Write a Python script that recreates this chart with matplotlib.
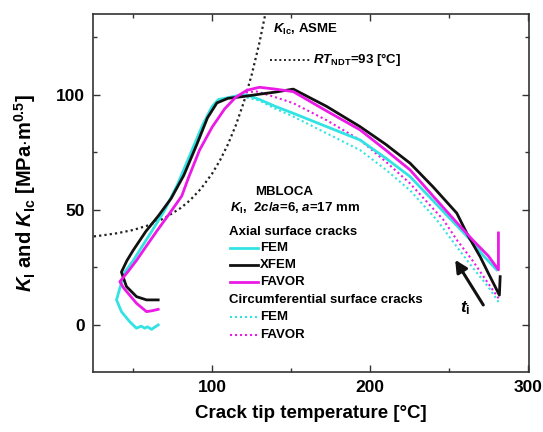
import numpy as np
import matplotlib
matplotlib.use('Agg')
import matplotlib.pyplot as plt
from matplotlib.ticker import MultipleLocator

plt.rcParams['font.family'] = 'Liberation Sans'
plt.rcParams['font.weight'] = 'bold'
plt.rcParams['axes.labelweight'] = 'bold'
plt.rcParams['mathtext.fontset'] = 'custom'
plt.rcParams['mathtext.rm'] = 'Liberation Sans:bold'
plt.rcParams['mathtext.bf'] = 'Liberation Sans:bold'
plt.rcParams['mathtext.it'] = 'Liberation Sans:italic:bold'

# ---- data ----
# ASME K_Ic curve, RT_NDT = 93 C
kic_T = [25, 30, 40, 50, 60, 70, 80, 86, 93, 100, 105, 110, 115, 120, 125, 130, 134]
kic_K = [38.5, 38.9, 39.9, 41.3, 43.4, 46.5, 50.8, 54.2, 59.3, 65.8, 71.6, 78.5,
         86.8, 96.7, 108.6, 122.8, 136.2]

# axial surface cracks, path order (transient starts at high T)
fem_T = [280.3, 272, 265, 251.5, 240, 225.4, 210, 193.7, 172.5, 151.4, 140, 130,
         121.8, 115, 108, 104, 100, 94, 86, 78, 70, 62, 55, 50, 44.7, 41.5, 39.4,
         42.5, 47.8, 52, 55, 57.3, 59, 61.6, 63.5, 65.8]
fem_K = [24, 30, 36, 45.7, 54, 64.5, 72.5, 80.4, 86.2, 92, 95, 98,
         100, 99.5, 98.5, 98, 95, 87, 74, 61, 50, 41, 33.5, 28, 23, 16, 10.9,
         5.8, 1.4, -1.4, -0.5, -1.4, -0.8, -1.9, -1, 0]

xfem_T = [282.5, 282, 275, 269.8, 262, 255, 240, 225.4, 210, 193.7, 172.5, 151.4,
          140, 130, 120, 110, 103, 97, 90, 82, 74, 66, 58, 50, 46, 42.5,
          45.7, 52.1, 58.4, 65.8]
xfem_K = [21, 13, 22.5, 29.7, 39, 48.6, 60, 70.3, 78.5, 86.2, 95, 102.5,
          101.2, 100.3, 99.3, 98.5, 96.5, 90, 78, 65, 55, 47.5, 40.7, 32.5, 28, 23,
          16.7, 12.3, 10.9, 10.9]

favor_T = [281.4, 281.4, 275, 265, 255, 240, 225.4, 210, 193.7, 172.5, 151.4, 140,
           130, 122, 115, 108, 100, 92, 85, 80.7, 72, 64.8, 58, 52, 47, 41.5,
           44, 46.7, 52.1, 58.4, 62, 65.8]
favor_K = [40, 24, 30, 37, 44.5, 56, 67.4, 76, 84.8, 93, 101.4, 102.5,
           103.3, 102, 99, 94, 86, 76, 64, 56, 47.5, 40.7, 34, 28, 23.5, 18.8,
           16, 13.8, 9.4, 5.8, 6.2, 6.8]

# circumferential surface cracks
cfem_T = [281.5, 275, 265, 255, 242.3, 225.4, 210, 193.7, 172.5, 151.4, 140, 130, 118]
cfem_K = [10, 16.5, 25, 34, 45.7, 58.5, 67.5, 76, 83.3, 90.6, 94, 97.5, 99.5]

cfavor_T = [281.5, 275, 265, 255, 246.5, 225.4, 210, 193.7, 172.5, 151.4, 140, 128, 120]
cfavor_K = [11.6, 18, 28, 37, 45.7, 61.5, 71, 80.4, 89, 96.4, 99, 101.5, 101]

CYAN = '#33e3e3'
MAG = '#ec1ae6'
dots = (0, (1, 1.4))

fig = plt.figure(figsize=(5.43, 4.32), dpi=100)
ax = fig.add_axes([0.1713, 0.1396, 0.803, 0.8283])

ax.plot(kic_T, kic_K, color='#222222', lw=1.6, ls=dots)
ax.plot(cfem_T, cfem_K, color=CYAN, lw=1.5, ls=dots)
ax.plot(cfavor_T, cfavor_K, color=MAG, lw=1.5, ls=dots)
ax.plot(fem_T, fem_K, color=CYAN, lw=2.0)
ax.plot(xfem_T, xfem_K, color='#111111', lw=2.0)
ax.plot(favor_T, favor_K, color=MAG, lw=2.0)

ax.set_xlim(24.5, 300.8)
ax.set_ylim(-20.3, 135.2)
ax.xaxis.set_major_locator(MultipleLocator(100))
ax.xaxis.set_minor_locator(MultipleLocator(50))
ax.yaxis.set_major_locator(MultipleLocator(50))
ax.yaxis.set_minor_locator(MultipleLocator(25))
ax.tick_params(which='both', direction='in', top=True, right=True, width=1.0, color='#333333')
ax.tick_params(which='major', length=5, labelsize=12.5, pad=6)
ax.tick_params(which='minor', length=3)
plt.setp(ax.get_xticklabels() + ax.get_yticklabels(), fontweight='bold')
for s in ax.spines.values():
    s.set_linewidth(1.2)
    s.set_color('#333333')

ax.set_xlabel('Crack tip temperature [°C]', fontsize=13.5, fontweight='bold', labelpad=7)
ax.set_ylabel(r'$K_{\rm I}$ and $K_{\rm Ic}$ [MPa$\cdot$m$^{0.5}$]', fontsize=14.5,
              fontweight='bold', labelpad=13)

# annotations
ax.text(138.5, 128.3, r'$K_{\rm Ic}$, ASME', fontsize=9.5, va='center')
lx = [136.7, 163]
ax.plot(lx, [115.2, 115.2], color='#222222', lw=1.4, ls=dots)
ax.text(164, 115.2, r'$RT_{\rm NDT}$=93 [°C]', fontsize=9.5, va='center')

ax.text(145.3, 57.8, 'MBLOCA', fontsize=9.5, va='center', ha='center')
ax.text(111, 50.7, r'$K_{\rm I}$,  2$c$/$a$=6, $a$=17 mm', fontsize=9.5, va='center')
ax.text(110.8, 40.6, 'Axial surface cracks', fontsize=9.5, va='center')
ax.text(110.8, 10.9, 'Circumferential surface cracks', fontsize=9.5, va='center')

entries = [(33.3, CYAN, '-', 'FEM'), (26.1, '#111111', '-', 'XFEM'),
           (18.8, MAG, '-', 'FAVOR'), (3.6, CYAN, dots, 'FEM'), (-4.3, MAG, dots, 'FAVOR')]
for yy, c, st, lab in entries:
    ax.plot([111, 129], [yy, yy], color=c, lw=2.0 if st == '-' else 1.5, ls=st)
    ax.text(130.5, yy, lab, fontsize=9.5, va='center')

ax.annotate('', xy=(254, 28.3), xytext=(271.8, 8.7),
            arrowprops=dict(arrowstyle='-|>', lw=2.2, color='#111111', mutation_scale=18,
                            shrinkA=0, shrinkB=0))
ax.text(260.3, 7.5, r'$t_{\rm i}$', fontsize=12.5, va='center', ha='center')

fig.savefig('out.png', dpi=100)
